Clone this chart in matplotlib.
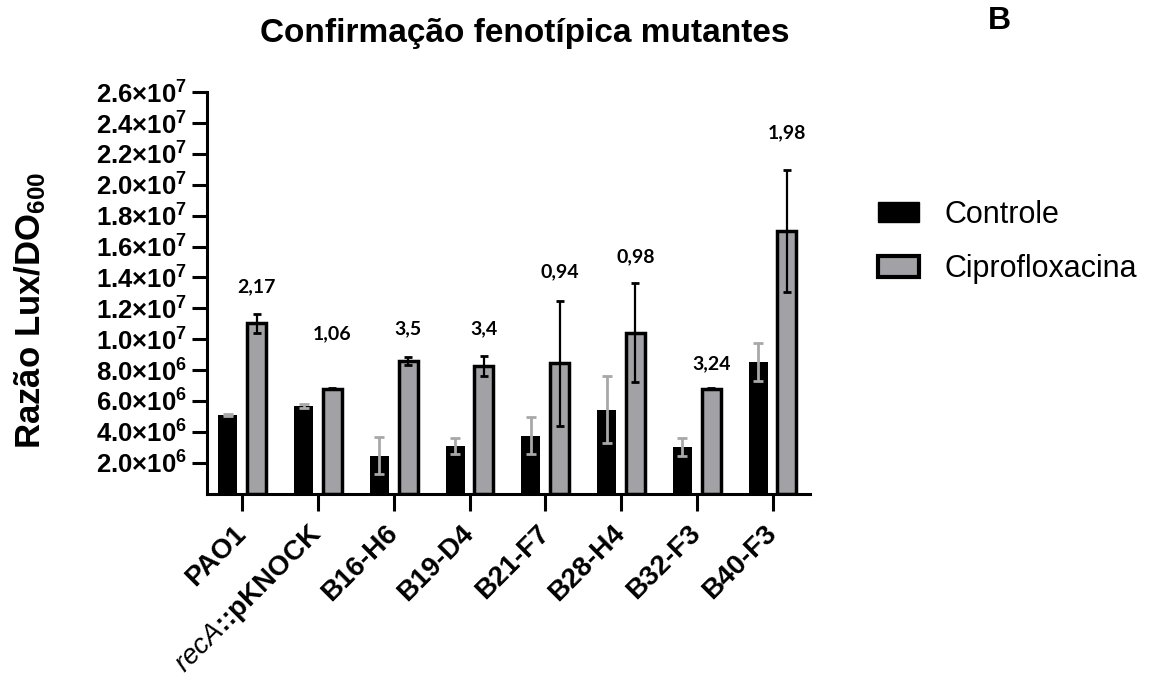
import matplotlib.pyplot as plt
import matplotlib as mpl
import numpy as np
from matplotlib.ticker import FuncFormatter, FixedLocator
from matplotlib.patches import Patch

mpl.rcParams.update({'font.family': 'Liberation Sans',
                     'font.weight': 'bold',
                     'mathtext.fontset': 'custom',
                     'mathtext.rm': 'Liberation Sans:bold',
                     'mathtext.it': 'Liberation Sans:italic:normal',
                     'mathtext.bf': 'Liberation Sans:bold',
                     'axes.spines.right': False,
                     'axes.spines.top': False})

#%% data
strains = ['PAO1', '$\\mathit{recA}$::pKNOCK', 'B16-H6', 'B19-D4',
           'B21-F7', 'B28-H4', 'B32-F3', 'B40-F3']
controle = [5.08e6, 5.68e6, 2.46e6, 3.06e6, 3.75e6, 5.44e6, 3.02e6, 8.55e6]
controle_err = [0.05e6, 0.15e6, 1.22e6, 0.52e6, 1.19e6, 2.18e6, 0.56e6, 1.23e6]
cipro = [1.103e7, 6.80e6, 8.61e6, 8.27e6, 8.44e6, 1.042e7, 6.80e6, 1.701e7]
cipro_err = [0.6e6, 0.05e6, 0.26e6, 0.66e6, 4.06e6, 3.2e6, 0.05e6, 3.96e6]
razao = ['2,17', '1,06', '3,5', '3,4', '0,94', '0,98', '3,24', '1,98']
razao_y = [1.339e7, 1.034e7, 1.066e7, 1.066e7, 1.436e7, 1.533e7, 8.4e6, 2.34e7]
yticks = np.arange(2e6, 2.61e7, 2e6)

#%% plot
fig = plt.figure(figsize=(11.61, 6.84), dpi=100)
ax = fig.add_axes([0.178, 0.2784, 0.52, 0.5868])
x = np.arange(len(strains))
w = 0.25
off = 0.19
gray = '#a2a2a6'

ax.bar(x - off, controle, w, color='black', zorder=2)
ax.bar(x + off, cipro, w, color=gray, edgecolor='black', linewidth=2.5, zorder=2)
ax.errorbar(x - off, controle, yerr=controle_err, fmt='none', ecolor='#a8a8a8',
            elinewidth=2, capsize=3.8, capthick=2, zorder=3)
ax.errorbar(x + off, cipro, yerr=cipro_err, fmt='none', ecolor='black',
            elinewidth=1.6, capsize=3, capthick=2, zorder=3)

for xi, t, yy in zip(x, razao, razao_y):
    ax.text(xi + off, yy, t, ha='center', va='center', fontsize=14,
            fontweight='bold', family='Lato')

ax.set_xlim(-0.47, 7.5)
ax.set_ylim(0, 2.6e7)
ax.yaxis.set_major_locator(FixedLocator(yticks))

def fmt(v, pos):
    e = int(np.floor(np.log10(v)))
    return '%.1f\u00d710$^{%d}$' % (v / 10**e, e)

ax.yaxis.set_major_formatter(FuncFormatter(fmt))
ax.set_xticks(x)
ax.set_xticklabels(strains, rotation=45, ha='right', va='center',
                   rotation_mode='anchor', fontsize=20, fontweight='bold')
ax.tick_params(axis='y', labelsize=18.5)
for s in ['left', 'bottom']:
    ax.spines[s].set_linewidth(2.2)
ax.tick_params(axis='y', direction='out', length=11, width=2.2, pad=3)
ax.tick_params(axis='x', direction='out', length=12, width=2.2, pad=14)

fig.text(0.026, 0.547, 'Razão Lux/DO$_{600}$', rotation=90, ha='center', va='center',
         fontsize=25, fontweight='bold')
fig.text(0.452, 0.938, 'Confirmação fenotípica mutantes', ha='center', va='baseline',
         fontsize=24, fontweight='bold')
fig.text(0.861, 0.957, 'B', ha='center', va='baseline', fontsize=23, fontweight='bold')

handles = [Patch(facecolor='black', edgecolor='black', label='Controle'),
           Patch(facecolor=gray, edgecolor='black', linewidth=3, label='Ciprofloxacina')]
fig.legend(handles=handles, loc='center left', bbox_to_anchor=(0.756, 0.646),
           frameon=False, handlelength=1.35, handleheight=0.65,
           handletextpad=0.85, labelspacing=0.8, borderpad=0, borderaxespad=0,
           prop={'family': 'Liberation Sans', 'weight': 'normal', 'size': 22})

fig.savefig('out.png', dpi=100)
